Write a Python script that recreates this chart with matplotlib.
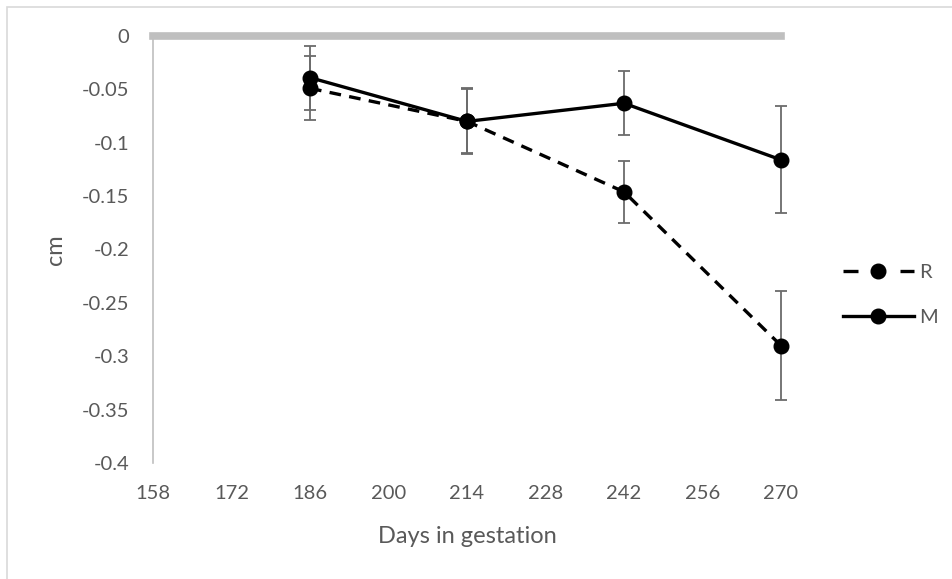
import matplotlib
matplotlib.use("Agg")
import matplotlib.pyplot as plt
from matplotlib.patches import Rectangle
from matplotlib.lines import Line2D

days = [186, 214, 242, 270]
R_vals = [-0.049, -0.080, -0.146, -0.290]
M_vals = [-0.039, -0.080, -0.063, -0.116]
R_err = [0.030, 0.030, 0.029, 0.051]
M_err = [0.030, 0.031, 0.030, 0.050]
x_ticks = [158, 172, 186, 200, 214, 228, 242, 256, 270]
y_ticks = [0, -0.05, -0.1, -0.15, -0.2, -0.25, -0.3, -0.35, -0.4]
y_labels = ["0", "-0.05", "-0.1", "-0.15", "-0.2", "-0.25", "-0.3", "-0.35", "-0.4"]
series_names = ['R', 'M']

plt.rcParams['font.family'] = ['Lato', 'DejaVu Sans']
TXT = '#595959'
FS = 14.5
FS_T = 17

W, H = 953, 579
fig = plt.figure(figsize=(W / 100, H / 100), dpi=100)
ax = fig.add_axes([153 / W, 1 - 463 / H, (781 - 153) / W, (463 - 36) / H])

fig.add_artist(Rectangle((7 / W, -0.5), 2, (1 - 7 / H) + 0.5, transform=fig.transFigure,
                         fill=False, edgecolor='#D9D9D9', lw=1.2))

ecol = '#6b6b6b'
ax.errorbar(days, R_vals, yerr=R_err, fmt='none', ecolor=ecol, elinewidth=1.3,
            capsize=4.3, capthick=1.3, zorder=2, clip_on=False)
ax.errorbar(days, M_vals, yerr=M_err, fmt='none', ecolor=ecol, elinewidth=1.3,
            capsize=4.3, capthick=1.3, zorder=2, clip_on=False)
ax.plot(days, R_vals, color='black', lw=2.4, dashes=(3.5, 2.5), marker='o', ms=10.5,
        zorder=3, clip_on=False)
ax.plot(days, M_vals, color='black', lw=2.4, marker='o', ms=10.5,
        zorder=4, clip_on=False)

ax.set_xlim(158, 270)
ax.set_ylim(-0.4, 0)
ax.set_xticks(x_ticks)
ax.set_xticklabels([str(t) for t in x_ticks])
ax.set_yticks(y_ticks)
ax.set_yticklabels(y_labels)
ax.tick_params(length=0, colors=TXT, labelsize=FS)
ax.tick_params(axis='x', pad=16)
ax.tick_params(axis='y', pad=17)

for s in ['right', 'bottom']:
    ax.spines[s].set_visible(False)
ax.spines['top'].set_color('#BFBFBF')
ax.spines['top'].set_linewidth(5.5)
ax.spines['left'].set_color('#BFBFBF')
ax.spines['left'].set_linewidth(1.2)

ax.set_xlabel('Days in gestation', color=TXT, fontsize=FS_T, labelpad=17)
ax.set_ylabel('cm', color=TXT, fontsize=FS_T, labelpad=11.5)

h_R = Line2D([], [], color='black', lw=2.4, dashes=(4.5, 12.6), marker='o', ms=10.5)
h_M = Line2D([], [], color='black', lw=2.4, marker='o', ms=10.5)
leg = ax.legend([h_R, h_M], series_names, loc='center left',
                bbox_to_anchor=(825 / W, 1 - 295 / H),
                bbox_transform=fig.transFigure, frameon=False, fontsize=FS,
                handlelength=3.5, labelspacing=1.35, handletextpad=0.25,
                labelcolor=TXT, numpoints=1)

fig.savefig('out.png', dpi=100)
